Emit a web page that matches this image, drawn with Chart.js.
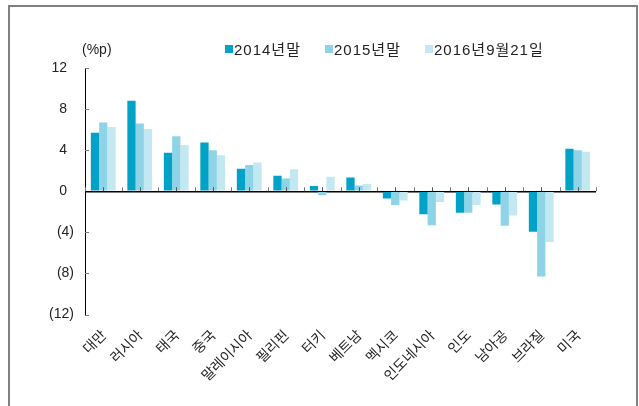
<!DOCTYPE html>
<html>
<head>
<meta charset="utf-8">
<script src="https://cdn.jsdelivr.net/npm/chart.js@4"></script>
<style>
  html, body { margin: 0; padding: 0; background: #fff; }
  #wrap { position: relative; width: 639px; height: 406px; overflow: hidden; font-family: "Liberation Sans", "Noto Sans CJK KR", sans-serif; }
  #frame { position: absolute; left: 8px; top: 5px; width: 630px; height: 440px; border: 2px solid #808080; box-sizing: border-box; }
  #chart { position: absolute; left: 0; top: 0; }
  #unit { position: absolute; left: 82px; top: 41px; font-size: 14px; color: #222; }
  #legend { position: absolute; left: 225px; top: 38px; display: flex; font-size: 15px; color: #222; letter-spacing: 1px; }
  .item { display: flex; align-items: center; margin-right: 24px; }
  .box { width: 8px; height: 8px; margin-right: 1px; }
</style>
</head>
<body>
<div id="wrap">
  <div id="frame"></div>
  <canvas id="chart" width="639" height="406"></canvas>
  <div id="unit">(%p)</div>
  <div id="legend"></div>
</div>
<script>
const categories = ["대만", "러시아", "태국", "중국", "말레이시아", "필리핀", "터키", "베트남", "멕시코", "인도네시아", "인도", "남아공", "브라질", "미국"];
const seriesNames = ["2014년말", "2015년말", "2016년9월21일"];
const seriesColors = ["#00A2C8", "#8FD4E6", "#C2E8F2"];
const end2014 = [5.7, 8.8, 3.75, 4.75, 2.2, 1.5, 0.5, 1.35, -0.7, -2.25, -2.1, -1.3, -3.95, 4.15];
const end2015 = [6.7, 6.6, 5.35, 4.0, 2.55, 1.25, -0.4, 0.55, -1.35, -3.3, -2.1, -3.35, -8.3, 4.0];
const sep2016 = [6.25, 6.05, 4.5, 3.5, 2.8, 2.15, 1.4, 0.7, -0.9, -1.05, -1.35, -2.35, -4.95, 3.85];
const yTicks = [12, 8, 4, 0, -4, -8, -12];

const seriesValues = [end2014, end2015, sep2016];

// HTML legend
const legendEl = document.getElementById('legend');
seriesNames.forEach((name, i) => {
  const item = document.createElement('div');
  item.className = 'item';
  const box = document.createElement('span');
  box.className = 'box';
  box.style.background = seriesColors[i];
  const txt = document.createElement('span');
  txt.textContent = name;
  item.appendChild(box);
  item.appendChild(txt);
  legendEl.appendChild(item);
});

const innerTicks = {
  id: 'innerTicks',
  afterDatasetsDraw(chart) {
    const ctx = chart.ctx;
    const x = chart.scales.x, y = chart.scales.y;
    const area = chart.chartArea;
    ctx.save();
    ctx.strokeStyle = '#777';
    ctx.lineWidth = 1;
    yTicks.forEach(v => {
      if (v === 0) return;
      const py = Math.round(y.getPixelForValue(v)) + 0.5;
      ctx.beginPath();
      ctx.moveTo(area.left, py);
      ctx.lineTo(area.left + 4, py);
      ctx.stroke();
    });
    const zy = y.getPixelForValue(0);
    const n = categories.length;
    const w = (area.right - area.left) / n;
    for (let i = 0; i <= n; i++) {
      const px = Math.round(area.left + i * w) + 0.5;
      ctx.beginPath();
      ctx.moveTo(px, zy);
      ctx.lineTo(px, zy - 4);
      ctx.stroke();
    }
    ctx.strokeStyle = '#555';
    for (let i = 0; i < n; i++) {
      const px = Math.round(x.getPixelForValue(i)) + 0.5;
      ctx.beginPath();
      ctx.moveTo(px, zy);
      ctx.lineTo(px, zy - 4);
      ctx.stroke();
    }
    ctx.restore();
  }
};

new Chart(document.getElementById('chart'), {
  type: 'bar',
  data: {
    labels: categories,
    datasets: seriesNames.map((name, i) => ({
      label: name,
      data: seriesValues[i],
      backgroundColor: seriesColors[i],
      borderWidth: 0,
      categoryPercentage: 0.68,
      barPercentage: 1.0
    }))
  },
  options: {
    responsive: false,
    animation: false,
    layout: { padding: { top: 68, right: 43, left: 0, bottom: 0 } },
    plugins: { legend: { display: false }, tooltip: { enabled: false } },
    scales: {
      x: {
        grid: { display: false },
        border: { display: false },
        ticks: {
          minRotation: 45, maxRotation: 45, padding: 4, autoSkip: false,
          color: '#222',
          font: { family: '"Noto Sans CJK KR", sans-serif', size: 14 }
        },
        afterFit(scale) { scale.height = 91.5; }
      },
      y: {
        min: -12, max: 12,
        afterBuildTicks(scale) { scale.ticks = yTicks.map(v => ({ value: v })); },
        grid: {
          drawTicks: false,
          color: (c) => (c.tick && c.tick.value === 0) ? '#000' : 'rgba(0,0,0,0)',
          lineWidth: (c) => (c.tick && c.tick.value === 0) ? 1.5 : 0
        },
        border: { display: true, color: '#000', width: 1 },
        ticks: {
          padding: 11,
          color: '#222',
          font: { family: '"Liberation Sans", sans-serif', size: 14 },
          callback: (v) => v < 0 ? '(' + Math.abs(v) + ')' : v + '\u2002'
        },
        afterFit(scale) { scale.width = 85; }
      }
    }
  },
  plugins: [innerTicks]
});
</script>
</body>
</html>
